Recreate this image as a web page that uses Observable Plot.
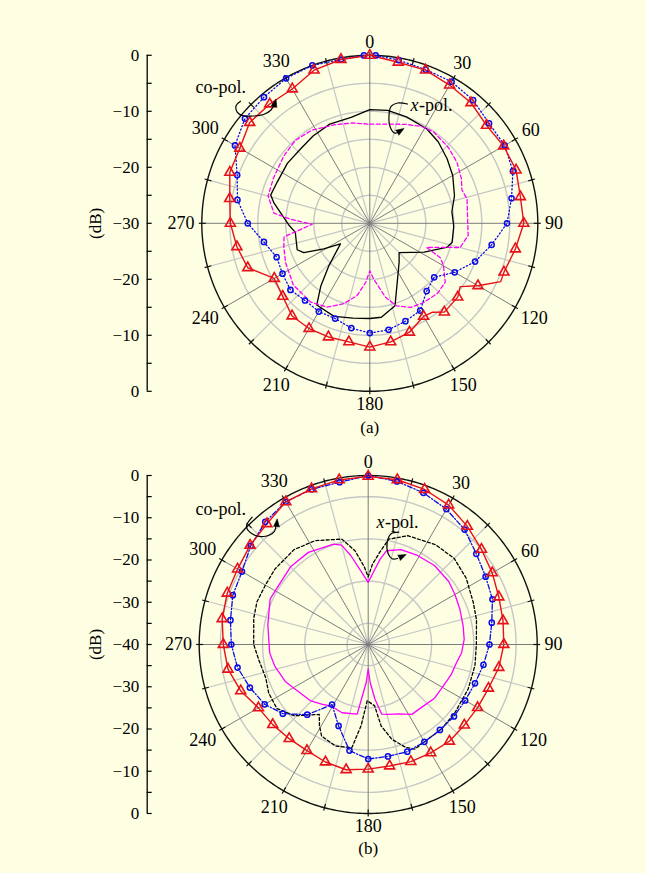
<!DOCTYPE html>
<html>
<head>
<meta charset="utf-8">
<script src="https://cdn.jsdelivr.net/npm/d3@7"></script>
<script src="https://cdn.jsdelivr.net/npm/@observablehq/plot@0.6"></script>
<style>
html, body { margin: 0; padding: 0; background: #fefee2; }
#chart svg { display: block; }
</style>
</head>
<body>
<div id="chart"></div>
<script>
// ---------------- shared categories ----------------
const angleLabels = [0, 30, 60, 90, 120, 150, 180, 210, 240, 270, 300, 330];
const spokeAngles = [0, 15, 30, 45, 60, 75, 90, 105, 120, 135, 150, 165, 180, 195, 210, 225, 240, 255, 270, 285, 300, 315, 330, 345];
const markerAngles = [0, 10, 20, 30, 40, 50, 60, 70, 80, 90, 100, 110, 120, 130, 140, 150, 160, 170, 180, 190, 200, 210, 220, 230, 240, 250, 260, 270, 280, 290, 300, 310, 320, 330, 340, 350];

// ---------------- panel (a) ----------------
const aDbLabels = [0, -10, -20, -30];
const aDbMinor = [-5, -15, -25];
const aRings = [-25, -20, -15, -10, -5];

const aCoPolRed = [0, -0.8, -0.9, -1.5, -1.9, -2.8, -2.4, -2.2, -2.7, -2.5, -3.6, -4.5, -7.7, -9.5, -9.3, -10.8, -9.3, -8.5, -7.9, -8.5, -8.4, -8.3, -8.4, -9.7, -10.3, -6.8, -5.9, -5.1, -4.6, -3.4, -3.2, -2.0, -2.2, -2.3, -0.9, -0.3];
const aRedKinkAngles = [114, 125, 145];
const aRedKinks = [-4.4, -10.3, -10.6];

const aBlueAngles = [2, 10, 20, 30, 40, 50, 60, 70, 80, 90, 100, 110, 120, 130, 140, 150, 160, 170, 180, 190, 200, 210, 220, 230, 240, 250, 260, 270, 280, 290, 300, 310, 320, 330, 340, 350, 358];
const aCoPolBlue = [0, -0.4, -0.8, -0.8, -1.3, -2.2, -2.2, -2.8, -4.3, -5.5, -7.9, -10.0, -12.5, -15.0, -14.2, -12.0, -11.4, -10.7, -10.4, -11.0, -11.9, -11.8, -12.0, -11.5, -12.0, -12.3, -10.8, -8.2, -6.0, -4.8, -2.2, -0.9, -0.6, -0.1, 0, -0.3, 0];

const aBlackAngles = [0, 9, 19, 31, 40, 50, 60, 72, 82, 92, 103, 107, 118, 135, 143, 155, 163, 173, 180, 190, 201, 213, 218, 224, 235, 241, 246, 250, 263, 269, 277, 282, 286, 294, 306, 317, 327, 338, 350];
const aXPolBlack = [-9.7, -9.6, -9.9, -10.3, -11.0, -12.0, -12.9, -14.1, -15.2, -15.0, -14.9, -15.5, -19.0, -22.6, -21.3, -18.4, -14.6, -13.1, -13.0, -12.8, -12.2, -12.6, -15.8, -19.5, -23.6, -20.6, -17.1, -16.2, -16.6, -15.5, -13.9, -12.5, -11.6, -11.9, -11.8, -11.85, -11.4, -10.9, -10.8];

const aMagAngles = [0, 10, 20, 28, 35, 46, 55, 64, 70, 76, 86, 97, 105, 113, 116, 120, 128, 136, 146, 154, 162, 168, 176, 180, 184, 190, 198, 207, 217, 231, 245, 255, 261, 269, 273, 276, 285, 295, 308, 318, 328, 340, 350];
const aXPolMagenta = [-12.3, -12.0, -11.2, -10.4, -10.1, -10.5, -11.0, -11.8, -12.5, -12.1, -12.5, -12.3, -13.3, -19.0, -16.0, -14.8, -12.9, -12.6, -12.9, -13.3, -14.5, -16.5, -20.0, -21.5, -19.4, -16.9, -14.9, -13.2, -12.4, -12.45, -13.4, -14.1, -14.5, -19.7, -15.8, -12.8, -11.2, -11.0, -10.5, -10.1, -10.4, -11.3, -11.8];

// annotation paths (chart units, 1 unit = 1 dB of radius)
const aCoPolArrowX = [-23.09, -23.86, -23.68, -22.79, -21.0, -18.98, -17.64, -17.11];
const aCoPolArrowY = [21.80, 21.04, 19.84, 19.25, 19.16, 19.43, 20.23, 21.21];
const aCoPolHead = {x: -16.75, y: 22.2, rotate: 15};
const aCoPolText = {x: -31.13, y: 24.25};
const aXPolArrowX = [6.73, 4.95, 3.79, 3.43, 3.61, 4.41, 5.48];
const aXPolArrowY = [21.30, 21.48, 20.86, 19.25, 17.29, 16.13, 16.39];
const aXPolHead = {x: 6.11, y: 16.93, rotate: 58};
const aXPolText = {x: 7.27, y: 21.04};

// ---------------- panel (b) ----------------
const bDbLabels = [0, -10, -20, -30, -40];
const bDbMinor = [-5, -15, -25, -35];
const bRings = [-35, -25, -15, -5];

const bCoPolRed = [-0.2, -0.4, -0.95, -1.9, -3.5, -5.0, -6.1, -7.1, -7.6, -7.9, -8.6, -9.7, -10.1, -10.3, -10.1, -10.4, -10.5, -10.8, -10.5, -9.9, -10.4, -11.0, -10.9, -10.5, -10.0, -7.9, -6.3, -5.7, -4.9, -4.5, -4.3, -3.5, -2.7, -1.0, -0.8, -0.45];

const bBlueAngles = [0, 10, 20, 30, 40, 50, 60, 70, 80, 90, 100, 110, 120, 130, 140, 150, 160, 170, 180, 190, 200, 211, 221, 231, 240, 250, 260, 270, 280, 290, 300, 310, 320, 330, 340, 350];
const bCoPolBlue = [0, -0.8, -1.8, -3.0, -4.5, -6.6, -7.9, -8.7, -10.3, -11.3, -12.3, -13.1, -13.5, -13.5, -13.6, -13.4, -13.0, -13.1, -12.9, -14.5, -19.5, -23.4, -18.0, -14.0, -11.7, -10.2, -8.6, -7.6, -6.9, -5.9, -5.5, -3.7, -2.1, -1.0, -0.9, -1.0];

const bBlackAngles = [0, 3, 7, 11, 20, 34, 45, 56, 68, 77, 90, 101, 114, 128, 139, 156, 160, 166, 171, 174, 181, 185, 189, 198, 207, 211, 215, 226, 235, 244, 252, 262, 270, 283, 291, 300, 309, 322, 333, 346, 352, 357];
const bXPolBlack = [-24, -21, -18.1, -14.6, -12.6, -11.5, -11.2, -12.0, -13.2, -13.7, -14.4, -14.25, -14.1, -13.9, -13.5, -12.9, -14.1, -16.9, -20.5, -25.4, -26.7, -20.7, -15.3, -14.75, -15.7, -17.6, -19.8, -15.7, -13.6, -13.8, -14.5, -13.85, -12.9, -12.2, -11.8, -11.9, -11.6, -11.5, -12.4, -14.3, -17.6, -21.5];

const bMagAngles = [0, 4, 8, 11, 19, 29, 40, 52, 60, 69, 79, 87, 95, 102, 110, 119, 129, 140, 148, 156, 164, 169, 173, 177, 180, 183, 187, 189, 201, 211, 218, 226, 239, 246, 257, 265, 281, 295, 303, 315, 327, 341, 345, 349, 355];
const bXPolMagenta = [-25.3, -22.9, -19.6, -17.4, -16.25, -15.9, -15.6, -15.8, -16.3, -16.75, -17.1, -17.25, -17.8, -18.7, -19.1, -19.7, -19.8, -20.5, -20.5, -22.0, -22.8, -23.2, -27.0, -31.0, -34.2, -31.0, -27.0, -23.3, -22.7, -23.0, -22.1, -20.9, -19.7, -18.5, -17.3, -16.6, -15.8, -14.4, -14.6, -14.0, -14.0, -14.85, -15.65, -18.6, -22.9];

const bCoPolArrowX = [-27.46, -28.80, -27.46, -24.71, -22.34, -21.78];
const bCoPolArrowY = [30.13, 27.93, 26.20, 25.56, 26.58, 28.40];
const bCoPolHead = {x: -21.54, y: 29.75, rotate: 5};
const bCoPolText = {x: -40.88, y: 32.12};
const bXPolArrowX = [7.24, 5.44, 4.50, 4.73, 5.68, 6.93];
const bXPolArrowY = [26.58, 26.20, 24.21, 21.47, 20.28, 20.36];
const bXPolHead = {x: 8.99, y: 21.30, rotate: 65};
const bXPolText = {x: 1.96, y: 28.95};

// ---------------- styling / layout ----------------
const W = 646;
const FONT = '"Liberation Serif", "Times New Roman", serif';
const RED = "#e8101a", BLUE = "#0a0ae8", MAG = "#ff00ff", BLK = "#000000";
const AXIS_X = 146.7, DB_LABEL_X = 95;

function toXY(Rdb) {
  return (a, db) => {
    const r = Math.max(0, db + Rdb), t = a * Math.PI / 180;
    return [r * Math.sin(t), r * Math.cos(t)];
  };
}
function series(angles, vals, f) {
  return angles.map((a, i) => { const [x, y] = f(a, vals[i]); return {a, x, y}; })
    .sort((p, q) => p.a - q.a);
}
function fmtDb(d) { return d === 0 ? "0" : "\u2212" + Math.abs(d); }
function pathOf(xs, ys) { return xs.map((x, i) => ({x, y: ys[i]})); }

function makePanel(o) {
  const R = o.Rdb, k = o.Rpx / R, f = toXY(R);
  const ML = AXIS_X, MR = 20, MT = 8, MB = 8;
  const xDom = [-(o.cx - ML) / k, (W - MR - o.cx) / k];
  const yDom = [-(o.H - MB - o.cy) / k, (o.cy - MT) / k];
  const x0 = xDom[0];

  const ringPts = [];
  for (const db of o.rings) for (let a = 0; a <= 360; a += 2) { const [x, y] = f(a, db); ringPts.push({db, x, y}); }
  const outer = [];
  for (let a = 0; a <= 360; a += 1) { const [x, y] = f(a, 0); outer.push({x, y}); }
  const spokes = spokeAngles.map(a => { const [x, y] = f(a, 0); return {x, y, major: a % 30 === 0}; });
  const oticks = spokeAngles.map(a => {
    const t = a * Math.PI / 180, r1 = R - 4 / k, r2 = R + 3 / k;
    return {x1: r1 * Math.sin(t), y1: r1 * Math.cos(t), x2: r2 * Math.sin(t), y2: r2 * Math.cos(t)};
  });
  const labels = angleLabels.map(a => {
    const t = a * Math.PI / 180, s = String(a);
    const off = (o.Rpx + 7 + Math.abs(Math.sin(t)) * s.length * 4.6 + Math.abs(Math.cos(t)) * 6) / k;
    return {text: s, x: off * Math.sin(t), y: off * Math.cos(t)};
  });

  const majors = [];
  for (const db of o.dbLabels) { majors.push({y: db + R, db}); if (db + R !== 0) majors.push({y: -(db + R), db}); }
  const minors = [];
  for (const db of o.dbMinor) { minors.push(db + R, -(db + R)); }

  const red = series(markerAngles, o.red, f);
  const redLine = series(markerAngles.concat(o.redKinkAngles || []), o.red.concat(o.redKinks || []), f);
  const blue = series(o.blueAngles, o.blue, f);
  const black = series(o.blackAngles, o.black, f);
  const mag = series(o.magAngles, o.mag, f);

  const marks = [
    Plot.line(ringPts, {x: "x", y: "y", z: "db", stroke: "#c6c6c6", strokeWidth: 1.4}),
    Plot.link(spokes.filter(d => !d.major), {x1: 0, y1: 0, x2: "x", y2: "y", stroke: "#c6c6c6", strokeWidth: 1.2}),
    Plot.link(spokes.filter(d => d.major), {x1: 0, y1: 0, x2: "x", y2: "y", stroke: "#7c7c7c", strokeWidth: 1}),
    Plot.line(outer, {x: "x", y: "y", stroke: "#111", strokeWidth: 1.4}),
    Plot.link(oticks, {x1: "x1", y1: "y1", x2: "x2", y2: "y2", stroke: "#111", strokeWidth: 1.2}),
    Plot.text(labels, {x: "x", y: "y", text: "text", fontSize: 18, fill: BLK}),

    // cross-pol
    Plot.line(black, {x: "x", y: "y", curve: "linear-closed", stroke: BLK, strokeWidth: 1.3, strokeDasharray: o.blackDash}),
    Plot.line(mag, {x: "x", y: "y", curve: "linear-closed", stroke: MAG, strokeWidth: 1.3, strokeDasharray: o.magDash}),
    // co-pol
    Plot.line(blue, {x: "x", y: "y", curve: "linear-closed", stroke: BLUE, strokeWidth: 1.3, strokeDasharray: o.blueDash}),
    Plot.line(redLine, {x: "x", y: "y", curve: "linear-closed", stroke: RED, strokeWidth: 1.4}),
    Plot.dot(blue, {x: "x", y: "y", r: 2.6, stroke: BLUE, strokeWidth: 1.5, fill: "none"}),
    Plot.dot(red, {x: "x", y: "y", symbol: "triangle", r: 3.7, stroke: RED, strokeWidth: 1.6, fill: "none"}),

    // annotations
    Plot.line(pathOf(o.coX, o.coY), {x: "x", y: "y", curve: "catmull-rom", stroke: BLK, strokeWidth: 1.2}),
    Plot.vector([o.coHead], {x: "x", y: "y", rotate: "rotate", length: 8, r: 3, shape: "spike", anchor: "end", fill: BLK, stroke: BLK, strokeWidth: 0.5}),
    Plot.text([o.coText], {x: "x", y: "y", text: () => "co-pol.", textAnchor: "start", fontSize: 18, fill: BLK}),
    Plot.line(pathOf(o.xpX, o.xpY), {x: "x", y: "y", curve: "catmull-rom", stroke: BLK, strokeWidth: 1.2}),
    Plot.vector([o.xpHead], {x: "x", y: "y", rotate: "rotate", length: 8, r: 3, shape: "spike", anchor: "end", fill: BLK, stroke: BLK, strokeWidth: 0.5}),
    Plot.text([o.xpText], {x: "x", y: "y", text: () => "x", textAnchor: "start", fontSize: 18, fontStyle: "italic", fill: BLK}),
    Plot.text([o.xpText], {x: "x", y: "y", text: () => "-pol.", textAnchor: "start", dx: 8.5, fontSize: 18, fill: BLK}),
    Plot.text([o.tag], {x: 0, y: -(o.tagY - o.cy) / k, text: d => d, fontSize: 17, fill: BLK}),

    // dB axis
    Plot.ruleX([x0], {y1: -R, y2: R, stroke: BLK, strokeWidth: 1.3}),
    Plot.ruleY(majors, {y: "y", x1: x0, x2: x0 + 5 / k, stroke: BLK, strokeWidth: 1.2}),
    Plot.ruleY(minors, {y: d => d, x1: x0, x2: x0 + 5 / k, stroke: BLK, strokeWidth: 1.2}),
    Plot.text(majors, {x: x0, y: "y", text: d => fmtDb(d.db), textAnchor: "end", dx: -8, fontSize: 17, fill: BLK}),
    Plot.text(["(dB)"], {x: (DB_LABEL_X - o.cx) / k, y: 0, text: d => d, rotate: -90, fontSize: 17, fill: BLK})
  ];

  return Plot.plot({
    width: W, height: o.H,
    marginLeft: ML, marginRight: MR, marginTop: MT, marginBottom: MB,
    x: {domain: xDom, axis: null},
    y: {domain: yDom, axis: null},
    style: {background: "transparent", fontFamily: FONT, fontSize: "17px", color: "black", overflow: "visible"},
    marks
  });
}

const chart = document.getElementById("chart");
chart.appendChild(makePanel({
  H: 437, cx: 369.3, cy: 222.8, Rpx: 168, Rdb: 30,
  rings: aRings, dbLabels: aDbLabels, dbMinor: aDbMinor,
  red: aCoPolRed, redKinkAngles: aRedKinkAngles, redKinks: aRedKinks,
  blueAngles: aBlueAngles, blue: aCoPolBlue, blueDash: "1.2,2.4",
  blackAngles: aBlackAngles, black: aXPolBlack, blackDash: null,
  magAngles: aMagAngles, mag: aXPolMagenta, magDash: "4,2.5",
  coX: aCoPolArrowX, coY: aCoPolArrowY, coHead: aCoPolHead, coText: aCoPolText,
  xpX: aXPolArrowX, xpY: aXPolArrowY, xpHead: aXPolHead, xpText: aXPolText,
  tag: "(a)", tagY: 426.7
}));
chart.appendChild(makePanel({
  H: 436, cx: 367.7, cy: 207, Rpx: 169, Rdb: 40,
  rings: bRings, dbLabels: bDbLabels, dbMinor: bDbMinor,
  red: bCoPolRed,
  blueAngles: bBlueAngles, blue: bCoPolBlue, blueDash: "5,2,1.2,2",
  blackAngles: bBlackAngles, black: bXPolBlack, blackDash: "3,2.2",
  magAngles: bMagAngles, mag: bXPolMagenta, magDash: null,
  coX: bCoPolArrowX, coY: bCoPolArrowY, coHead: bCoPolHead, coText: bCoPolText,
  xpX: bXPolArrowX, xpY: bXPolArrowY, xpHead: bXPolHead, xpText: bXPolText,
  tag: "(b)", tagY: 411
}));
</script>
</body>
</html>
